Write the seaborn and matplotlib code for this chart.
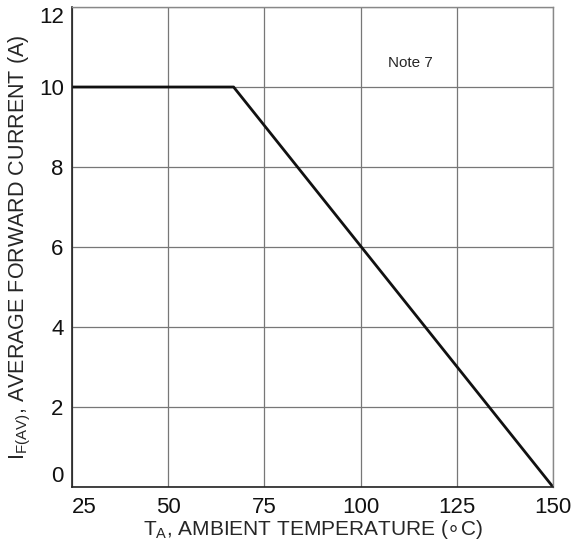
import pandas as pd
import matplotlib
matplotlib.use('Agg')
import matplotlib.pyplot as plt
import seaborn as sns

# --- Data ---
TEMP_C = [25, 67, 150]
CURRENT_A = [10, 10, 0]
X_TICKS = [25, 50, 75, 100, 125, 150]
Y_TICKS = [0, 2, 4, 6, 8, 10, 12]
NOTE = 'Note 7'


def main():
    sns.set_style('white')
    plt.rcParams['font.family'] = ['Liberation Sans', 'DejaVu Sans']

    df = pd.DataFrame({'T': TEMP_C, 'I': CURRENT_A})

    fig = plt.figure(figsize=(5.76, 5.41), dpi=100)
    ax = fig.add_axes([0.125, 0.1, 0.835, 0.887])

    sns.lineplot(data=df, x='T', y='I', ax=ax, color='#111111', linewidth=2.0)

    ax.set_xlim(25, 150)
    ax.set_ylim(0, 12)
    ax.set_xticks(X_TICKS)
    ax.set_yticks(Y_TICKS)
    ax.grid(True, color='#777777', linewidth=0.9)
    ax.tick_params(axis='both', length=0, labelsize=16, colors='#111111')
    ax.tick_params(axis='x', pad=7)
    ax.tick_params(axis='y', pad=6)

    # end labels nudged inside, as in the reference
    ylabels = ax.get_yticklabels()
    ylabels[0].set_verticalalignment('bottom')
    ylabels[-1].set_verticalalignment('top')
    xlabels = ax.get_xticklabels()
    xlabels[0].set_horizontalalignment('left')

    for side in ['left', 'bottom']:
        ax.spines[side].set_color('#222222')
        ax.spines[side].set_linewidth(1.2)
    for side in ['top', 'right']:
        ax.spines[side].set_color('#888888')
        ax.spines[side].set_linewidth(1.0)

    ax.set_xlabel(r'T$_\mathregular{A}$, AMBIENT TEMPERATURE ($\circ$C)', fontsize=15, labelpad=0)
    ax.set_ylabel(r'I$_\mathregular{F(AV)}$, AVERAGE FORWARD CURRENT (A)', fontsize=15.5, labelpad=4)
    ax.text(107, 10.6, NOTE, fontsize=11, va='center', ha='left')

    fig.savefig('out.png', dpi=100)


if __name__ == '__main__':
    main()
